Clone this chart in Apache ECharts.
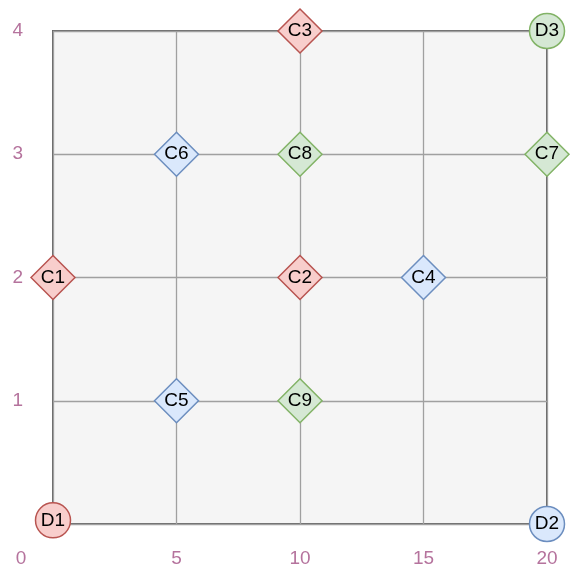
<!DOCTYPE html>
<html>
<head>
<meta charset="utf-8">
<script src="https://cdn.jsdelivr.net/npm/echarts@6/dist/echarts.min.js"></script>
<style>html,body{margin:0;padding:0;background:#fff}#c{width:581px;height:581px}</style>
</head>
<body>
<div id="c"></div>
<script>
// Red nodes
const redNames = ['C1', 'C2', 'C3', 'D1'];
const redX = [0, 10, 10, 0];
const redY = [2, 2, 4, 0.03];
// Green nodes
const greenNames = ['C7', 'C8', 'C9', 'D3'];
const greenX = [20, 10, 10, 20];
const greenY = [3, 3, 1, 4];
// Blue nodes
const blueNames = ['C4', 'C5', 'C6', 'D2'];
const blueX = [15, 5, 5, 20];
const blueY = [2, 1, 3, 0];

const xTicks = [0, 5, 10, 15, 20];
const yTicks = [0, 1, 2, 3, 4];

const FONT = 'Liberation Sans, Arial, Helvetica, sans-serif';

function build(names, xs, ys) {
  return names.map((n, i) => ({
    name: n,
    value: [xs[i], ys[i]],
    symbol: n.charAt(0) === 'D' ? 'circle' : 'diamond',
    symbolSize: n.charAt(0) === 'D' ? 35 : 44
  }));
}

function series(names, xs, ys, fill, stroke) {
  return {
    type: 'scatter',
    clip: false,
    data: build(names, xs, ys),
    itemStyle: { color: fill, borderColor: stroke, borderWidth: 1.5, opacity: 1 },
    label: {
      show: true,
      position: 'inside',
      formatter: p => p.name,
      color: '#000',
      fontSize: 19,
      fontFamily: FONT
    },
    emphasis: { disabled: true },
    z: 5
  };
}

const labelColor = '#b5739d';
const chart = echarts.init(document.getElementById('c'), null, { renderer: 'canvas' });
chart.setOption({
  animation: false,
  grid: {
    left: 53, right: 34, top: 31, bottom: 57,
    show: true,
    backgroundColor: '#f5f5f5',
    borderColor: '#666666',
    borderWidth: 2
  },
  xAxis: {
    type: 'value',
    min: xTicks[0], max: xTicks[xTicks.length - 1], interval: 5,
    axisLine: { show: false },
    axisTick: { show: false },
    splitLine: { show: true, lineStyle: { color: '#a0a0a0', width: 1.3 } },
    axisLabel: {
      margin: 25,
      color: labelColor,
      fontSize: 19,
      fontFamily: FONT,
      formatter: v => v === 0 ? '{z|0}' : String(v),
      rich: { z: { color: labelColor, fontSize: 19, fontFamily: FONT, padding: [0, 64, 0, 0] } }
    }
  },
  yAxis: {
    type: 'value',
    min: yTicks[0], max: yTicks[yTicks.length - 1], interval: 1,
    axisLine: { show: false },
    axisTick: { show: false },
    splitLine: { show: true, lineStyle: { color: '#a0a0a0', width: 1.3 } },
    axisLabel: {
      margin: 30,
      color: labelColor,
      fontSize: 19,
      fontFamily: FONT,
      formatter: v => v === 0 ? '' : String(v)
    }
  },
  series: [
    series(redNames, redX, redY, '#f8cecc', '#b85450'),
    series(greenNames, greenX, greenY, '#d5e8d4', '#82b366'),
    series(blueNames, blueX, blueY, '#dae8fc', '#6c8ebf')
  ]
});
</script>
</body>
</html>
